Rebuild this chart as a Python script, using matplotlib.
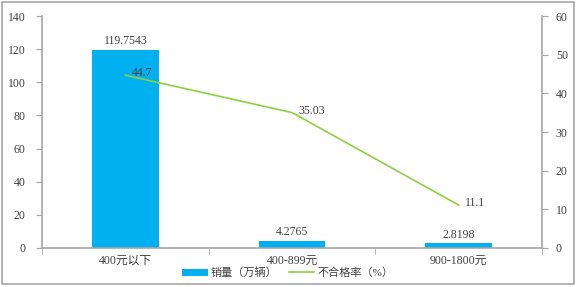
import numpy as np
import matplotlib.pyplot as plt
from matplotlib.patches import Rectangle

# data
categories = ['400元以下', '400-899元', '900-1800元']
sales = [119.7543, 4.2765, 2.8198]
rate = [44.7, 35.03, 11.1]
sales_labels = ['119.7543', '4.2765', '2.8198']
rate_labels = ['44.7', '35.03', '11.1']

plt.rcParams['font.family'] = ['Liberation Serif', 'Noto Sans CJK SC']
plt.rcParams['font.size'] = 8.5

bar_color = '#00B0F0'
line_color = '#8CD03C'
axis_color = '#A6A6A6'
text_color = '#404040'


def main():
    fig = plt.figure(figsize=(5.76, 2.87), dpi=100)
    ax = fig.add_axes([0.073, 0.136, 0.868, 0.808])
    ax2 = ax.twinx()

    x = np.arange(len(categories))
    ax.bar(x, sales, width=0.4, color=bar_color, label='销量（万辆）', zorder=2)
    for xi, v, s in zip(x, sales, sales_labels):
        ax.text(xi, v + 1.5, s, ha='center', va='bottom', color=text_color)

    ax2.plot(x, rate, color=line_color, lw=1.2, label='不合格率（%）', zorder=3)
    for xi, v, s in zip(x, rate, rate_labels):
        ax2.text(xi + 0.04, v + 0.5, s, ha='left', va='center', color=text_color)

    ax.set_xlim(-0.5, 2.5)
    ax.set_ylim(0, 140)
    ax.set_yticks(np.arange(0, 141, 20))
    ax2.set_ylim(0, 60)
    ax2.set_yticks(np.arange(0, 61, 10))

    ax.set_xticks(x)
    ax.set_xticklabels(categories)
    ax.set_xticks([-0.5, 0.5, 1.5, 2.5], minor=True)
    ax.tick_params(axis='x', which='major', length=0, pad=5, colors=text_color)
    ax.tick_params(axis='x', which='minor', length=4, color=axis_color)
    ax.tick_params(axis='y', length=4, color=axis_color, labelcolor=text_color, pad=8)
    ax2.tick_params(axis='y', length=4, color=axis_color, labelcolor=text_color, pad=6)

    for a in (ax, ax2):
        a.spines['top'].set_visible(False)
        for side in ('left', 'right', 'bottom'):
            a.spines[side].set_color(axis_color)
            a.spines[side].set_linewidth(1.2)
    ax.spines['right'].set_visible(False)
    ax2.spines['left'].set_visible(False)
    ax2.spines['bottom'].set_visible(False)

    h1, l1 = ax.get_legend_handles_labels()
    h2, l2 = ax2.get_legend_handles_labels()
    fig.legend(h1 + h2, l1 + l2, loc='center', bbox_to_anchor=(0.5, 0.05),
               ncol=2, frameon=False, fontsize=8, handlelength=2.3,
               handleheight=0.6, handletextpad=0.3, columnspacing=1.0,
               labelcolor=text_color)

    fig.patches.append(Rectangle((0.004, 0.012), 0.992, 0.98, transform=fig.transFigure,
                                 fill=False, edgecolor=axis_color, lw=1.2))

    fig.savefig('out.png', dpi=100)


if __name__ == "__main__":
    main()
